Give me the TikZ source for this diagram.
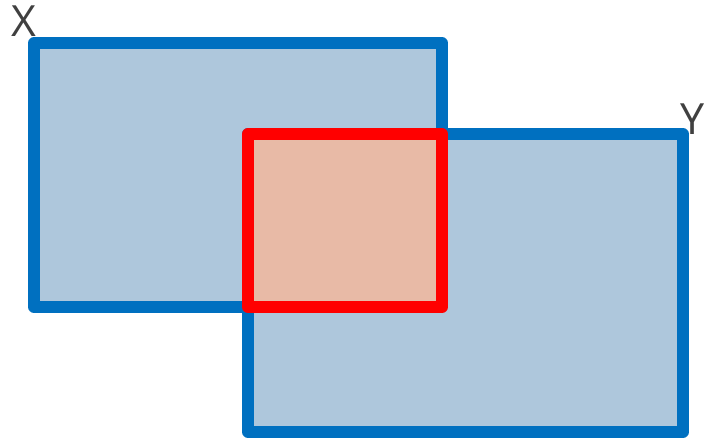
\documentclass[tikz,border=0pt]{standalone}
\usepackage{fontspec}
\setsansfont{Open Sans}
\usepackage{xcolor}
\usepackage{tikz}
\definecolor{setblue}{RGB}{0, 112, 192}
\definecolor{setfill}{RGB}{174, 199, 220}
\definecolor{cutred}{RGB}{255, 0, 0}
\definecolor{cutfill}{RGB}{232, 186, 166}
\definecolor{labelgray}{RGB}{64, 64, 64}

\begin{document}
\begin{tikzpicture}[x=1pt, y=-1pt,
		setbox/.style={draw=setblue, fill=setfill, line width=11.5pt, line join=round},
		cutbox/.style={draw=cutred, fill=cutfill, line width=12pt, line join=round},
		setlabel/.style={labelgray, font=\sffamily\fontsize{43}{43}\selectfont, anchor=base, inner sep=0pt}]
					\useasboundingbox (0,0) rectangle (706,439);
					% corners
					\coordinate (xa) at (34,43);
					\coordinate (xb) at (442,307);
					\coordinate (ya) at (248,134);
					\coordinate (yb) at (683,432);
					
					\draw[setbox] (xa) rectangle (xb);
					\draw[setbox] (ya) rectangle (yb);
					\draw[cutbox] (ya) rectangle (xb);
					
					\node[setlabel] (xlab) at (24,36) {X};
					\node[setlabel] (ylab) at (693,134) {Y};
				\end{tikzpicture}
\end{document}
